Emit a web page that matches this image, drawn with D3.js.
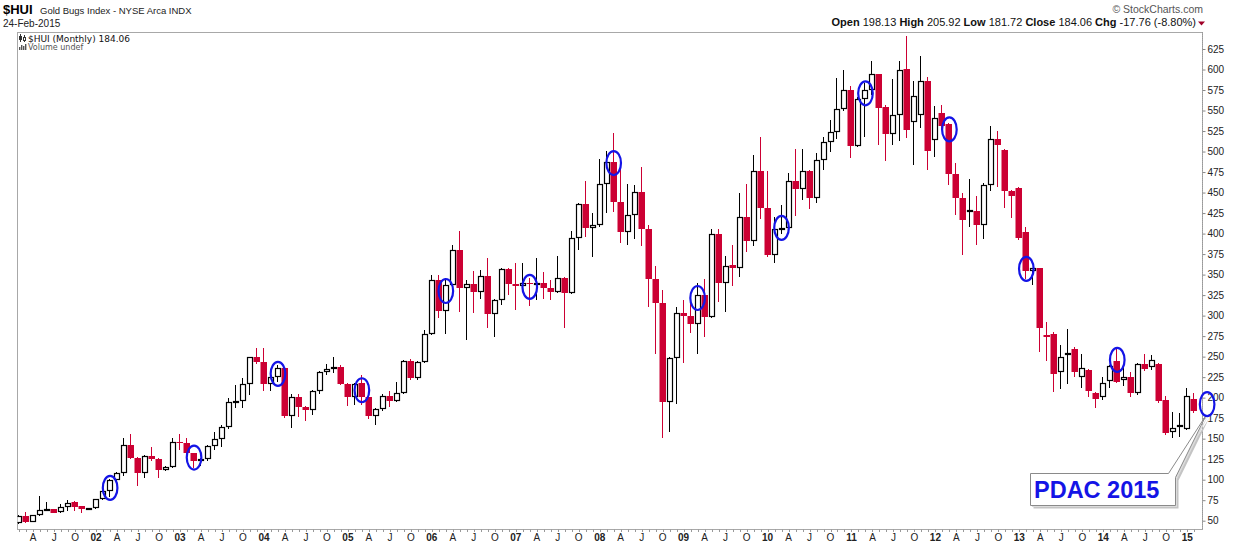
<!DOCTYPE html>
<html>
<head>
<meta charset="utf-8">
<title>$HUI Gold Bugs Index - Monthly</title>
<script src="https://d3js.org/d3.v7.min.js"></script>
<style>
  body { margin: 0; background: #fff; }
  svg text { font-family: "Liberation Sans", Arial, sans-serif; }
</style>
</head>
<body>
<div id="chart"></div>
<script>
// monthly candles from Feb 2001 to Feb 2015
var firstMonth = new Date(2001, 1, 1);
var opens = [
  47.6, 55.7, 48.8, 56.6, 62.7, 63.9, 60.2, 66.3, 72.8, 67.9, 63.9,
  65.5, 76.5, 86.2, 99.6, 107.8, 141.9, 126.8, 107.8, 128.5, 125.6, 111.8, 115.8,
  145.6, 144.4, 132.2, 123.1, 124.8, 141.4, 149.2, 163.9, 194.3, 195.9, 216.3, 249.2,
  243.1, 216.3, 224.8, 235.8, 178, 200.4, 189, 185, 207.8, 231.6, 234.6, 237,
  216.6, 201.2, 217.5, 201.2, 178, 185.8, 202, 196.3, 206, 245, 223.6, 243.8,
  277.6, 343.4, 306, 337.3, 380, 334, 338.2, 329.2, 348.7, 301.6, 318.9, 356.9,
  338.6, 336.5, 340.2, 338.2, 340.2, 334, 329.2, 345.5, 328, 394.3, 435.7, 406.5,
  410.5, 460.1, 486.9, 438.9, 402.3, 422.7, 450.4, 405.2, 344.3, 315, 194.3, 248,
  302.8, 299.9, 290.2, 325, 298.7, 399.5, 340.2, 361.8, 357.7, 419.9, 391.3, 476.3,
  430.8, 374.3, 405.2, 407.2, 464.4, 454, 476.3, 443, 489.7, 511.7, 523.5, 551.5,
  575, 507.2, 564.5, 574.7, 594.2, 554.3, 521.8, 544.2, 601, 535.7, 544.2, 585.6,
  513.7, 547, 533.3, 473, 443.8, 427.5, 427.5, 410.1, 458.9, 515, 501.5, 451.6,
  455.6, 401.6, 354.8, 357.7, 276.4, 277.6, 230.9, 252, 259.3, 224.8, 233.6, 205.3,
  201.2, 220.7, 244.7, 221.5, 224.8, 206, 240.7, 237, 240.7, 197.1, 157.8, 164.2,
  161.8, 198.13
];
var highs = [
  56.5, 60.6, 57, 80.1, 72.8, 64.5, 70.4, 75.2, 74, 68.5, 66,
  77, 87, 100.8, 109, 150.8, 155.7, 128, 130.1, 139.9, 126, 117, 150.8,
  155.7, 150.4, 133, 126, 142.3, 157.8, 166.7, 199.6, 215.4, 223.6, 250, 260.2,
  260.2, 226, 239.8, 236.5, 204.5, 204, 190, 209, 233, 241.4, 249.2, 240.2,
  218, 217.5, 227.6, 202, 187, 204.5, 208.1, 219.5, 246, 247, 245, 282.5,
  349.5, 349.5, 345.9, 386.1, 403.2, 343.1, 354.4, 355.6, 369.9, 320, 357.7, 358,
  363.8, 364.2, 345.5, 369.9, 352.8, 343.1, 372.7, 347, 403.6, 437.3, 464.2, 424.8,
  491, 500.7, 522.3, 478.8, 460.1, 459.3, 481.2, 410.5, 360.1, 330.9, 250, 310.9,
  319.4, 317, 340.2, 344.7, 405.6, 405.6, 372.4, 386.1, 449.5, 460.5, 495.8, 517.8,
  476.3, 420.3, 434.5, 473.9, 503.1, 503.1, 477, 498.2, 517.8, 538.4, 589.3, 599.4,
  580.3, 566, 583.3, 610.4, 595, 556.8, 588.4, 610.4, 641.2, 585.6, 616.5, 591,
  555.6, 556.8, 535, 486.1, 449.9, 466.8, 445.9, 461.7, 531.2, 525.1, 503, 452.8,
  456.5, 408.4, 358.5, 358, 292.2, 280, 264.2, 283.7, 261.4, 253.2, 235, 207.3,
  225.2, 240, 260.2, 237, 230.9, 242.6, 252.9, 252.4, 242, 202, 182.2, 181.3,
  211.4, 205.92
];
var lows = [
  46, 47.6, 48, 56, 62, 59, 59.5, 62.2, 62.2, 59.8, 63,
  64, 75, 79.3, 97.5, 104.5, 125, 92.3, 102.4, 123, 102.4, 110, 114,
  136.2, 130, 113.9, 116.7, 123, 136.2, 140.2, 162, 187, 187, 203.2, 241,
  208.1, 208.5, 219.1, 175.6, 163.4, 176, 171.9, 178.9, 205, 228, 230, 215,
  190.2, 191, 191, 174, 166.7, 184, 189, 195, 205, 222, 221, 242,
  276, 296.7, 278, 335, 304.4, 270.7, 303.2, 320.4, 285.3, 274.3, 313, 325.1,
  306.9, 329.2, 312.1, 319, 320.4, 319, 328, 285.3, 326, 380, 396.2, 371.9,
  408, 425.1, 426.3, 388.9, 385.7, 393.8, 385.2, 310.5, 253.2, 150.8, 158.5, 191.9,
  242.3, 278.5, 253.6, 274.3, 296.7, 317, 304, 336.5, 346.7, 378, 385.2, 417.4,
  372, 363.8, 400, 405, 421.1, 441.3, 429.6, 437.3, 477.5, 499.5, 515, 550,
  492.5, 505, 518.2, 569, 508.4, 488.9, 508, 513.3, 516.5, 484, 529.2, 477.9,
  493.8, 528, 458.9, 423.1, 373.5, 407.7, 385.7, 393.4, 452.3, 457.2, 430.8, 418.7,
  392, 345, 337.3, 256, 245.1, 206.9, 210.9, 216.6, 225.2, 211.4, 201.2, 187.8,
  197.5, 211.4, 218, 214.2, 200.8, 203.2, 233, 234, 194, 154.1, 150.5, 151.7,
  160.6, 181.72
];
var closes = [
  55.7, 48.8, 56.6, 62.7, 63.9, 59.8, 66.3, 71.9, 67.1, 63.9, 65.5,
  76.5, 86.2, 99.6, 107.8, 141.9, 126.8, 107.8, 128.5, 125.6, 111.8, 115.8, 145.6,
  144.4, 132.2, 123.1, 124.8, 141.4, 149.2, 163.9, 194.3, 195.9, 216.3, 249.2, 243.1,
  216.3, 224.8, 235.8, 178, 200.4, 189, 185, 207.8, 231.6, 234.6, 237, 216.3,
  201.2, 216.6, 201.2, 178, 185.8, 202, 196.3, 206, 245, 223.6, 243.8, 277.6,
  343.4, 306, 337.3, 380, 334, 338.2, 329.2, 348.7, 301.6, 318.9, 356.9, 338.6,
  336.5, 340.2, 338.2, 340.2, 334, 329.2, 345.5, 328, 394.3, 435.7, 406.5, 410.5,
  460.1, 486.9, 438.9, 402.3, 422.7, 450.4, 405.2, 344.3, 315, 194.3, 248, 302.8,
  299.9, 290.2, 325, 298.7, 399.5, 340.2, 360.9, 357.7, 419.9, 391.3, 476.3, 430.8,
  374.3, 405.2, 407.2, 464.4, 454, 476.3, 443, 489.7, 511.7, 523.5, 551.5, 575,
  507.2, 564.5, 574.7, 594.2, 553.1, 521.8, 544.2, 599.1, 526.7, 567.4, 585.6, 500.4,
  541.3, 530.8, 473, 443.8, 417, 429.2, 410.1, 458.9, 515, 507.7, 451.6, 445.5,
  394.3, 354.8, 357.7, 284.6, 274.3, 228.5, 249.2, 254.4, 230.9, 236.5, 208.1, 198,
  217.5, 238.2, 219.5, 225.6, 206, 240.7, 234.9, 245.5, 195.9, 156.6, 163, 166.3,
  201.7, 184.06
];
var priceTicks = [50, 75, 100, 125, 150, 175, 200, 225, 250, 275, 300, 325, 350,
  375, 400, 425, 450, 475, 500, 525, 550, 575, 600, 625];
var quarterLetters = { 3: "A", 6: "J", 9: "O" };

// PDAC convention circles (month, price level)
var pdacMonths = ["2002-03", "2003-03", "2004-03", "2005-03", "2006-03", "2007-03", "2008-03",
  "2009-03", "2010-03", "2011-03", "2012-03", "2013-02", "2014-03", "2015-03"];
var pdacLevels = [90, 127, 229, 209, 330, 335, 486, 321.5, 407, 571, 527, 357, 246, 192];

var title = "$HUI", subtitle = "Gold Bugs Index - NYSE Arca INDX", dateLabel = "24-Feb-2015";
var quote = [["Open", "198.13"], ["High", "205.92"], ["Low", "181.72"], ["Close", "184.06"], ["Chg", "-17.76 (-8.80%)"]];

var W = 1240, H = 546;
var plot = { left: 17, right: 1202, top: 32, bottom: 529 };
var red = "#cc0033", blue = "#1414e6";

var fmt = d3.timeFormat("%Y-%m");
var months = d3.timeMonth.range(firstMonth, d3.timeMonth.offset(firstMonth, opens.length)).map(fmt);
var candles = months.map(function(m, i) {
  return { m: m, o: opens[i], h: highs[i], l: lows[i], c: closes[i] };
});

var x = d3.scaleBand().domain(months).range([15.7, 15.7 + months.length * 6.994]);
var y = d3.scaleLinear().domain([50, 625]).range([520.7, 49]);
function xc(m) { return x(m) + x.step() / 2; }

var svg = d3.select("#chart").append("svg")
  .attr("width", W).attr("height", H)
  .style("display", "block");

svg.append("defs").append("clipPath").attr("id", "plotclip")
  .append("rect").attr("x", plot.left + 0.5).attr("y", plot.top)
  .attr("width", plot.right - plot.left).attr("height", plot.bottom - plot.top);

// header
svg.append("text").attr("x", 3).attr("y", 14)
  .style("font-size", "13px").style("font-weight", "bold").text(title);
svg.append("text").attr("x", 40).attr("y", 14)
  .style("font-size", "9.5px").attr("fill", "#222").text(subtitle);
svg.append("text").attr("x", 3).attr("y", 27)
  .style("font-size", "10px").attr("fill", "#222").text(dateLabel);

svg.append("text").attr("x", 1203).attr("y", 13).attr("text-anchor", "end")
  .style("font-size", "10.5px").attr("fill", "#555").text("\u00a9 StockCharts.com");
var q = svg.append("text").attr("x", 1196).attr("y", 26).attr("text-anchor", "end")
  .style("font-size", "11px").attr("fill", "#111");
quote.forEach(function(p, i) {
  q.append("tspan").style("font-weight", "bold").text((i ? "  " : "") + p[0] + " ");
  q.append("tspan").text(p[1]);
});
svg.append("path").attr("d", "M1198,21.5L1205,21.5L1201.5,25.5Z").attr("fill", "#a00028");

// frame
svg.append("rect").attr("x", plot.left + 0.5).attr("y", plot.top + 0.5)
  .attr("width", plot.right - plot.left).attr("height", plot.bottom - plot.top)
  .attr("fill", "none").attr("stroke", "#a8a8a8");

// legend
var lg = svg.append("g");
lg.append("line").attr("x1", 20.5).attr("x2", 20.5).attr("y1", 34).attr("y2", 42).attr("stroke", "#333");
lg.append("rect").attr("x", 19).attr("y", 36).attr("width", 3).attr("height", 4).attr("fill", "#333");
lg.append("line").attr("x1", 24.5).attr("x2", 24.5).attr("y1", 35).attr("y2", 42).attr("stroke", "#333");
lg.append("rect").attr("x", 23.5).attr("y", 37.5).attr("width", 2).attr("height", 3).attr("fill", "#fff").attr("stroke", "#333");
lg.append("text").attr("x", 28).attr("y", 42)
  .style("font-family", "'DejaVu Sans', sans-serif").style("font-size", "9px").attr("fill", "#111")
  .text("$HUI (Monthly) " + closes[closes.length - 1].toFixed(2));
[3, 5, 4, 6].forEach(function(hh, i) {
  lg.append("rect").attr("x", 19 + i * 2).attr("y", 50 - hh).attr("width", 1.4).attr("height", hh).attr("fill", "#555");
});
lg.append("text").attr("x", 28).attr("y", 50)
  .style("font-family", "'DejaVu Sans', sans-serif").style("font-size", "8px").attr("fill", "#555")
  .text("Volume undef");

// right price axis
var ya = svg.append("g").attr("transform", "translate(" + (plot.right + 0.5) + ",0)")
  .call(d3.axisRight(y).tickValues(priceTicks).tickSize(3).tickPadding(2));
ya.select(".domain").remove();
ya.selectAll(".tick line").attr("stroke", "#888");
ya.selectAll(".tick text").style("font-size", "10px").attr("fill", "#222")
  .style("font-family", "'Liberation Sans', Arial, sans-serif");
svg.append("line").attr("x1", plot.right + 0.5).attr("x2", plot.right + 0.5)
  .attr("y1", plot.top).attr("y2", plot.bottom + 0.5)
  .attr("stroke", "#999").attr("stroke-dasharray", "1,1");

// bottom month ticks and quarter labels
var xa = svg.append("g");
xa.selectAll("line").data(months).enter().append("line")
  .attr("x1", function(m) { return Math.round(xc(m)) + 0.5; })
  .attr("x2", function(m) { return Math.round(xc(m)) + 0.5; })
  .attr("y1", plot.bottom + 0.5).attr("y2", plot.bottom + 3)
  .attr("stroke", "#999");
var labelled = months.filter(function(m) { var mm = +m.slice(5); return mm % 3 === 1; });
xa.selectAll("text").data(labelled).enter().append("text")
  .attr("x", function(m) { return xc(m); })
  .attr("y", 541)
  .attr("text-anchor", "middle")
  .style("font-size", "10px")
  .style("font-weight", function(m) { return m.slice(5) === "01" ? "bold" : "normal"; })
  .attr("fill", "#222")
  .text(function(m) {
    var mm = +m.slice(5);
    return mm === 1 ? m.slice(2, 4) : quarterLetters[mm - 1];
  });

// candles
var cg = svg.append("g").attr("clip-path", "url(#plotclip)");
var bw = 6;
var g = cg.selectAll("g.candle").data(candles).enter().append("g").attr("class", "candle");
g.append("line")
  .attr("x1", function(d) { return Math.round(xc(d.m) - bw / 2) + 2.5; })
  .attr("x2", function(d) { return Math.round(xc(d.m) - bw / 2) + 2.5; })
  .attr("y1", function(d) { return Math.round(y(d.h)); })
  .attr("y2", function(d) { return Math.round(y(d.l)); })
  .attr("stroke", function(d) { return d.c < d.o ? red : "#000"; })
  .attr("stroke-width", 1);
g.append("rect")
  .each(function(d) {
    var x0 = Math.round(xc(d.m) - bw / 2);
    var top = Math.round(y(Math.max(d.o, d.c)));
    var bot = Math.round(y(Math.min(d.o, d.c)));
    var sel = d3.select(this);
    if (d.c < d.o) {
      sel.attr("x", x0 - 0.5).attr("y", top).attr("width", bw + 0.5)
        .attr("height", Math.max(1, bot - top)).attr("fill", red);
    } else {
      sel.attr("x", x0 + 0.5).attr("y", top + 0.5).attr("width", bw - 1)
        .attr("height", Math.max(1, bot - top - 1)).attr("fill", "#fff")
        .attr("stroke", "#000").attr("stroke-width", 1.2);
    }
  });

// PDAC callout box with pointer
var lastX = xc(months[months.length - 1]);
function pdacX(m) {
  var i = months.indexOf(m);
  return i >= 0 ? xc(m) : lastX + 1.85 * x.step();
}
var tipX = pdacX(pdacMonths[pdacMonths.length - 1]) - 1;
var tipY = y(pdacLevels[pdacLevels.length - 1]) - 1 + 12;
var box = { x0: 1030.5, y0: 473.5, x1: 1175.5, y1: 505.5 };
var boxPath = "M" + box.x0 + "," + box.y0 + "L" + (box.x1 - 7) + "," + box.y0 +
  "L" + tipX + "," + tipY + "L" + box.x1 + "," + (box.y0 + 4) +
  "L" + box.x1 + "," + box.y1 + "L" + box.x0 + "," + box.y1 + "Z";
svg.append("path").attr("d", boxPath).attr("transform", "translate(3,3)")
  .attr("fill", "#c4c4c4");
svg.append("path").attr("d", boxPath).attr("transform", "translate(1.5,1.5)")
  .attr("fill", "#dcdcdc");
svg.append("path").attr("d", boxPath).attr("fill", "#fff").attr("stroke", "#8a8a8a");
svg.append("text").attr("x", 1034).attr("y", 498)
  .style("font-size", "23.5px").style("font-weight", "bold").attr("fill", blue)
  .text("PDAC 2015");

// PDAC circles
svg.append("g").selectAll("ellipse").data(pdacMonths).enter().append("ellipse")
  .attr("cx", function(m) { return pdacX(m); })
  .attr("cy", function(m, i) { return y(pdacLevels[i]); })
  .attr("rx", 7.3).attr("ry", 12)
  .attr("fill", "none").attr("stroke", blue).attr("stroke-width", 2.2);
</script>
</body>
</html>
